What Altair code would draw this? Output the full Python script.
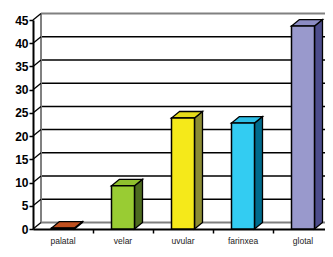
import altair as alt
import pandas as pd

# ---- data ----
categories = ["palatal", "velar", "uvular", "farinxea", "glotal"]
values = [0.2, 9.3, 23.9, 22.8, 43.7]
front_colors = ["#C0501F", "#99CC33", "#F5E91A", "#33CCF2", "#9999CC"]
top_colors = ["#C0501F", "#8FC02E", "#E6DC1A", "#2EBFE6", "#8C8CC4"]
side_colors = ["#7A3010", "#4D6B1F", "#8C8C33", "#006B8C", "#4D4D8C"]
y_ticks = [0, 5, 10, 15, 20, 25, 30, 35, 40, 45]
x_boundaries = [1, 2, 3, 4]

# ---- geometry (in data units) ----
BAND_PX = 60.0
W, H = 292, 209
YMAX = 45
XMAX = W / BAND_PX
HW = 11.5 / BAND_PX          # half width of front face
DX = 8.0 / BAND_PX           # depth offset x
DY = 6.5 * YMAX / H          # depth offset y

centers = [i + 0.5 for i in range(len(categories))]
front = pd.DataFrame({"cat": categories, "v": values,
                      "x0": [c - HW for c in centers],
                      "x1": [c + HW for c in centers],
                      "zero": [0] * len(categories)})

side_rows, top_rows = [], []
for cat, v, c in zip(categories, values, centers):
    side_rows.append({"cat": cat, "x": c + HW, "y": 0, "y2": v})
    side_rows.append({"cat": cat, "x": c + HW + DX, "y": DY, "y2": v + DY})
    top_rows.append({"cat": cat, "y": v, "x": c - HW, "x2": c + HW})
    top_rows.append({"cat": cat, "y": v + DY, "x": c - HW + DX, "x2": c + HW + DX})
side = pd.DataFrame(side_rows)
top = pd.DataFrame(top_rows)

grid = pd.DataFrame({"y": [t + DY for t in y_ticks if 0 < t < YMAX],
                     "x": DX, "x2": XMAX})
wall_edges = pd.DataFrame({"y": [DY, YMAX + DY], "x": DX, "x2": XMAX})
connectors = pd.DataFrame({"y": y_ticks, "y2": [t + DY for t in y_ticks],
                           "x": 0.0, "x2": DX})
left_edge = pd.DataFrame({"x": [DX], "y": [DY], "y2": [YMAX + DY]})
labels = pd.DataFrame({"cat": categories, "c": centers, "zero": 0})

xs = alt.Scale(domain=[0, XMAX], nice=False, zero=False)
ys = alt.Scale(domain=[0, YMAX], nice=False, zero=False)

x_axis = alt.Axis(values=x_boundaries, labels=False, tickSize=4, tickColor="black",
                  tickWidth=1.5, domainColor="black", domainWidth=2, grid=False)
y_axis = alt.Axis(values=y_ticks, tickSize=4, tickColor="black", tickWidth=1.5,
                  domainColor="black", domainWidth=2, grid=False,
                  labelOverlap=False, labelFlush=False,
                  labelFont="Liberation Sans", labelFontWeight="bold",
                  labelFontSize=12, labelColor="black", labelPadding=1)


def X(field):
    return alt.X(field, scale=xs, axis=x_axis, title=None)


def Y(field):
    return alt.Y(field, scale=ys, axis=y_axis, title=None)


grid_layer = alt.Chart(grid).mark_rule(color="black", strokeWidth=1.5).encode(
    x=X("x:Q"), x2="x2:Q", y=Y("y:Q"))
edge_layer = alt.Chart(wall_edges).mark_rule(color="#808080", strokeWidth=2).encode(
    x=X("x:Q"), x2="x2:Q", y=Y("y:Q"))
left_layer = alt.Chart(left_edge).mark_rule(color="#808080", strokeWidth=2).encode(
    x=X("x:Q"), y=Y("y:Q"), y2="y2:Q")
conn_layer = alt.Chart(connectors).mark_rule(color="black", strokeWidth=1.3).encode(
    x=X("x:Q"), x2="x2:Q", y=Y("y:Q"), y2="y2:Q")

side_layer = alt.Chart(side).mark_area(stroke="black", strokeWidth=1.3, opacity=1).encode(
    x=X("x:Q"), y=Y("y:Q"), y2="y2:Q",
    fill=alt.Fill("cat:N", scale=alt.Scale(domain=categories, range=side_colors), legend=None),
    detail="cat:N")
top_layer = alt.Chart(top).mark_area(orient="horizontal", stroke="black", strokeWidth=1.3, opacity=1).encode(
    y=Y("y:Q"), x=X("x:Q"), x2="x2:Q",
    fill=alt.Fill("cat:N", scale=alt.Scale(domain=categories, range=top_colors), legend=None),
    detail="cat:N")

front_layer = alt.Chart(front).mark_rect(stroke="black", strokeWidth=1.5).encode(
    x=X("x0:Q"), x2="x1:Q", y=Y("zero:Q"), y2="v:Q",
    fill=alt.Fill("cat:N", scale=alt.Scale(domain=categories, range=front_colors), legend=None))

text_layer = alt.Chart(labels).mark_text(font="Liberation Sans", fontSize=8.5, color="#222222",
                                         dy=12).encode(
    x=X("c:Q"), y=Y("zero:Q"), text="cat:N")

chart = alt.layer(grid_layer, edge_layer, left_layer, conn_layer,
                  side_layer, top_layer, front_layer, text_layer).resolve_scale(fill="independent").properties(
    width=W, height=H,
    autosize=alt.AutoSizeParams(type="none"),
    padding={"left": 25, "top": 12, "right": 0, "bottom": 20},
    background="white",
).configure_view(stroke=None)

chart.save("out.html", embed_options={"renderer": "svg", "actions": False})
